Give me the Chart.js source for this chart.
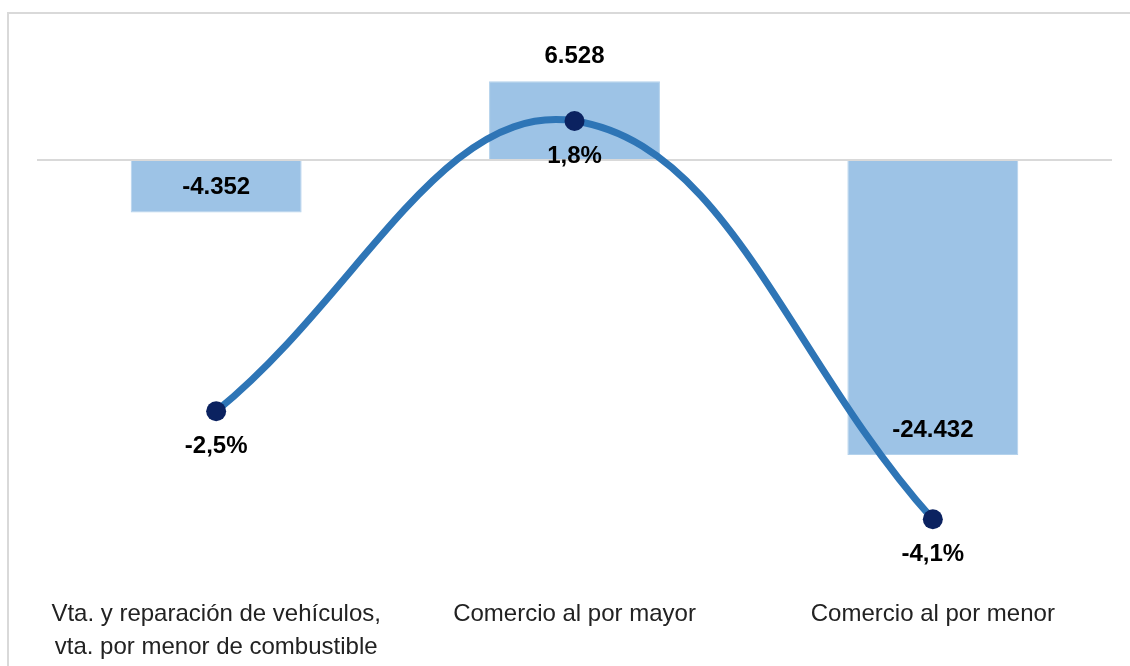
<!DOCTYPE html>
<html>
<head>
<meta charset="utf-8">
<script src="https://cdn.jsdelivr.net/npm/chart.js@4/dist/chart.umd.min.js"></script>
<style>
    html, body { margin: 0; padding: 0; background: #fff; overflow: hidden; }
    #wrap { position: relative; width: 1130px; height: 666px; overflow: hidden; }
    #frame { position: absolute; left: 7px; top: 12px; width: 1200px; height: 720px; border: 2px solid #d9d9d9; box-sizing: border-box; }
    #chart { position: absolute; left: 0; top: 0; }
</style>
</head>
<body>
<div id="wrap">
    <div id="frame"></div>
    <canvas id="chart" width="1130" height="690"></canvas>
</div>
<script>
// Categories
const categorias = [
    ['Vta. y reparación de vehículos,', 'vta. por menor de combustible'],
    'Comercio al por mayor',
    'Comercio al por menor'
];
// Bars: absolute variation
const variacionAbs = [-4352, 6528, -24432];
// Line: percentage variation
const variacionPct = [-2.5, 1.8, -4.1];

// Format 1.234 style
function formatMiles(v) {
    const s = Math.abs(v).toString().replace(/\B(?=(\d{3})+(?!\d))/g, '.');
    return (v < 0 ? '-' : '') + s;
}
function formatPct(v) {
    return v.toFixed(1).replace('.', ',') + '%';
}

// Data labels drawn on top
const etiquetas = {
    id: 'etiquetas',
    afterDatasetsDraw(chart) {
        const ctx = chart.ctx;
        ctx.save();
        ctx.font = 'bold 24px "Liberation Sans", Arial, sans-serif';
        ctx.fillStyle = '#000';
        ctx.textAlign = 'center';
        ctx.textBaseline = 'middle';

        // bars (dataset 1)
        chart.getDatasetMeta(1).data.forEach((bar, i) => {
            ctx.fillText(formatMiles(variacionAbs[i]), bar.x, bar.y - 25);
        });

        // line points (dataset 0)
        chart.getDatasetMeta(0).data.forEach((pt, i) => {
            ctx.fillText(formatPct(variacionPct[i]), pt.x, pt.y + 35);
        });
        ctx.restore();
    }
};

const ctx = document.getElementById('chart').getContext('2d');
new Chart(ctx, {
    data: {
        labels: categorias,
        datasets: [{
            type: 'line',
            label: 'Var. %',
            data: variacionPct,
            yAxisID: 'y2',
            borderColor: '#2E75B6',
            borderWidth: 7,
            tension: 0.4,
            pointRadius: 10,
            pointBackgroundColor: '#0B2260',
            pointBorderColor: '#0B2260',
            pointBorderWidth: 0,
            order: 0
        }, {
            type: 'bar',
            label: 'Var. absoluta',
            data: variacionAbs,
            yAxisID: 'y',
            backgroundColor: '#9DC3E6',
            borderColor: '#B4D2EC',
            borderWidth: 1,
            categoryPercentage: 1,
            barPercentage: 0.477,
            order: 1
        }]
    },
    options: {
        responsive: false,
        animation: false,
        layout: { padding: { left: 37, right: 18, top: 40, bottom: 8 } },
        plugins: {
            legend: { display: false },
            tooltip: { enabled: false }
        },
        scales: {
            x: {
                offset: true,
                grid: { display: false, drawTicks: false },
                border: { display: false },
                ticks: {
                    padding: 18,
                    color: '#222',
                    maxRotation: 0,
                    autoSkip: false,
                    font: { family: '"Liberation Sans", Arial, sans-serif', size: 24, lineHeight: '33px' }
                }
            },
            y: {
                position: 'left',
                min: -34800,
                max: 9950,
                border: { display: false },
                // only the zero line is drawn
                afterBuildTicks: axis => { axis.ticks = [{ value: 0 }]; },
                grid: {
                    drawTicks: false,
                    lineWidth: 2,
                    color: '#d9d9d9'
                },
                ticks: { display: false }
            },
            y2: {
                display: false,
                min: -5,
                max: 3
            }
        }
    },
    plugins: [etiquetas]
});
</script>
</body>
</html>
